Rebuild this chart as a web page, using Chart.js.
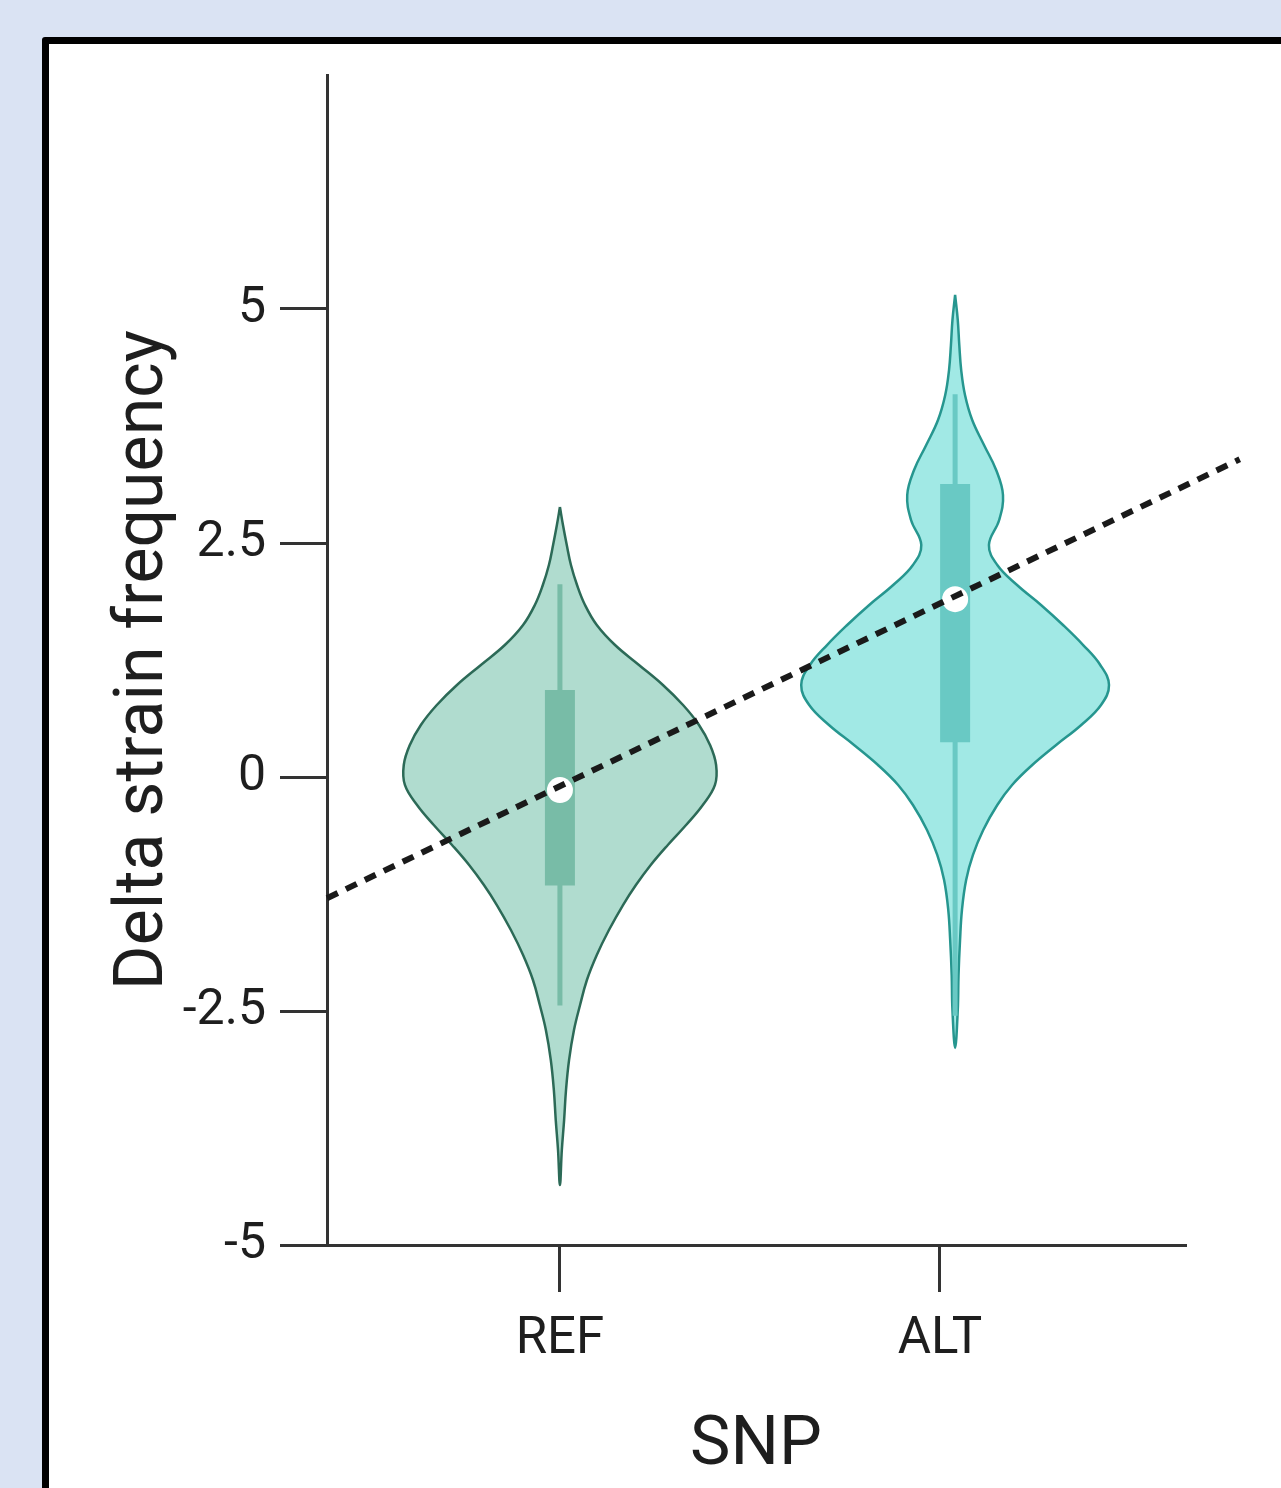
<!DOCTYPE html>
<html lang="en">
<head>
    <meta charset="UTF-8"/>
    <title>Delta strain frequency by SNP</title>
    <script src="https://cdn.jsdelivr.net/npm/chart.js"></script>
    <style>
        html, body {
            margin: 0;
            padding: 0;
            width: 100%;
            height: 100%;
            overflow: hidden;
            background-color: #dae3f3;
            font-family: Roboto, sans-serif;
        }

        .frame {
            position: absolute;
            left: 42px;
            top: 37px;
            width: 1300px;
            height: 1500px;
            background-color: #fff;
            border: 7px solid #000;
            border-radius: 3px;
        }

        .chart-box {
            position: absolute;
            left: 49px;
            top: 44px;
            width: 1232px;
            height: 1444px;
        }
    </style>
</head>
<body>
<div class="frame"></div>
<div class="chart-box">
    <canvas id="violinChart"></canvas>
</div>

<script>
    // axis ticks
    const yTickValues = [-5, -2.5, 0, 2.5, 5];
    const xTickValues = [1, 2];
    const xTickLabels = ['REF', 'ALT'];

    // violin centres on the x scale
    const groupCenters = [1, 2.04];

    // REF violin: y values and half-widths (density)
    const refY     = [2.885, 2.692, 2.479, 2.265, 2.051, 1.838, 1.624, 1.410, 1.197, 0.983, 0.769, 0.556, 0.342, 0.128,
                      -0.085, -0.299, -0.513, -0.726, -0.940, -1.154, -1.368, -1.635, -1.902, -2.169, -2.436, -2.703,
                      -3.024, -3.344, -3.665, -3.985, -4.359];
    const refWidth = [0, 0.008, 0.018, 0.029, 0.045, 0.066, 0.097, 0.145, 0.208, 0.271, 0.324, 0.366, 0.395, 0.411,
                      0.408, 0.376, 0.332, 0.284, 0.239, 0.200, 0.166, 0.129, 0.097, 0.071, 0.053, 0.037,
                      0.024, 0.016, 0.011, 0.005, 0];

    // ALT violin
    const altY     = [5.150, 4.882, 4.615, 4.348, 4.081, 3.814, 3.547, 3.280, 3.013, 2.746, 2.479, 2.265, 2.051, 1.838,
                      1.624, 1.410, 1.197, 0.983, 0.769, 0.556, 0.342, 0.128, -0.085, -0.299, -0.566, -0.833,
                      -1.100, -1.421, -1.741, -2.115, -2.489, -2.895];
    const altWidth = [0, 0.007, 0.011, 0.016, 0.026, 0.045, 0.076, 0.108, 0.126, 0.116, 0.089, 0.111, 0.163, 0.226,
                      0.284, 0.337, 0.382, 0.405, 0.384, 0.332, 0.266, 0.203, 0.150, 0.111, 0.074, 0.047,
                      0.029, 0.018, 0.013, 0.009, 0.007, 0];

    // inner box plots (REF, ALT)
    const boxQ1       = [-1.16, 0.37];
    const boxQ3       = [0.93, 3.13];
    const whiskerLow  = [-2.44, -2.55];
    const whiskerHigh = [2.06, 4.09];
    const medians     = [-0.14, 1.9];

    // dashed trend line end points
    const trendX = [0.387, 2.789];
    const trendY = [-1.295, 3.394];

    const fillColors    = ['#b0dccf', '#a1e9e5'];
    const outlineColors = ['#2c6a57', '#26968f'];
    const boxColors     = ['#78bca7', '#69c9c4'];

    // closed outline: down the right side, back up the left side
    function violinOutline(center, ys, widths) {
        const pts = ys.map((y, i) => ({x: center + widths[i], y: y}));
        for (let i = ys.length - 2; i >= 0; i--) {
            pts.push({x: center - widths[i], y: ys[i]});
        }
        return pts;
    }

    const violins = [[refY, refWidth], [altY, altWidth]];
    const datasets = [];

    violins.forEach(([ys, ws], i) => {
        datasets.push({
            data: violinOutline(groupCenters[i], ys, ws),
            showLine: true,
            fill: 'shape',
            backgroundColor: fillColors[i],
            borderColor: outlineColors[i],
            borderWidth: 2.5,
            tension: 0.4,
            pointRadius: 0,
            order: 5
        });
        datasets.push({
            data: [{x: groupCenters[i], y: whiskerLow[i]}, {x: groupCenters[i], y: whiskerHigh[i]}],
            showLine: true,
            borderColor: boxColors[i],
            borderWidth: 5,
            pointRadius: 0,
            order: 4
        });
        datasets.push({
            data: [{x: groupCenters[i], y: boxQ1[i]}, {x: groupCenters[i], y: boxQ3[i]}],
            showLine: true,
            borderColor: boxColors[i],
            borderWidth: 30,
            borderCapStyle: 'butt',
            pointRadius: 0,
            order: 3
        });
    });

    datasets.push({
        data: medians.map((m, i) => ({x: groupCenters[i], y: m})),
        showLine: false,
        pointRadius: 13,
        pointBackgroundColor: '#ffffff',
        pointBorderWidth: 0,
        order: 2
    });

    datasets.push({
        data: trendX.map((x, i) => ({x: x, y: trendY[i]})),
        showLine: true,
        borderColor: '#1a1a1a',
        borderWidth: 6,
        borderDash: [12, 9],
        pointRadius: 0,
        clip: false,
        order: 1
    });

    const axisColor = '#333';
    const textColor = '#1e1e1e';

    const ctx = document.getElementById('violinChart').getContext('2d');
    new Chart(ctx, {
        type: 'scatter',
        data: {datasets: datasets},
        options: {
            responsive: true,
            maintainAspectRatio: false,
            animation: false,
            events: [],
            layout: {padding: {top: 31, right: 96, left: 0, bottom: 0}},
            plugins: {
                legend: {display: false},
                tooltip: {enabled: false}
            },
            scales: {
                x: {
                    type: 'linear',
                    min: 0.387,
                    max: 2.645,
                    afterBuildTicks: axis => { axis.ticks = xTickValues.map(v => ({value: v})); },
                    afterFit: axis => { axis.height = 243; axis.paddingLeft = 0; axis.paddingRight = 0; },
                    border: {display: true, color: axisColor, width: 3},
                    grid: {drawOnChartArea: false, color: axisColor, lineWidth: 3, tickLength: 47},
                    ticks: {
                        autoSkip: false,
                        maxRotation: 0,
                        padding: 18,
                        color: textColor,
                        font: {family: 'Roboto', size: 51},
                        callback: v => xTickLabels[xTickValues.indexOf(v)]
                    },
                    title: {
                        display: true,
                        text: 'SNP',
                        color: textColor,
                        font: {family: 'Roboto', size: 68},
                        padding: {top: 0, bottom: 0}
                    }
                },
                y: {
                    min: -5,
                    max: 7.5,
                    afterBuildTicks: axis => { axis.ticks = yTickValues.map(v => ({value: v})); },
                    afterFit: axis => { axis.width = 278; axis.paddingTop = 0; axis.paddingBottom = 0; },
                    border: {display: true, color: axisColor, width: 3},
                    grid: {drawOnChartArea: false, color: axisColor, lineWidth: 3, tickLength: 47},
                    ticks: {
                        autoSkip: false,
                        padding: 14,
                        color: textColor,
                        font: {family: 'Roboto', size: 50},
                        callback: v => String(v)
                    },
                    title: {
                        display: true,
                        text: 'Delta strain frequency',
                        color: textColor,
                        font: {family: 'Roboto', size: 68},
                        padding: {top: 55, bottom: 0}
                    }
                }
            }
        }
    });
</script>
</body>
</html>
